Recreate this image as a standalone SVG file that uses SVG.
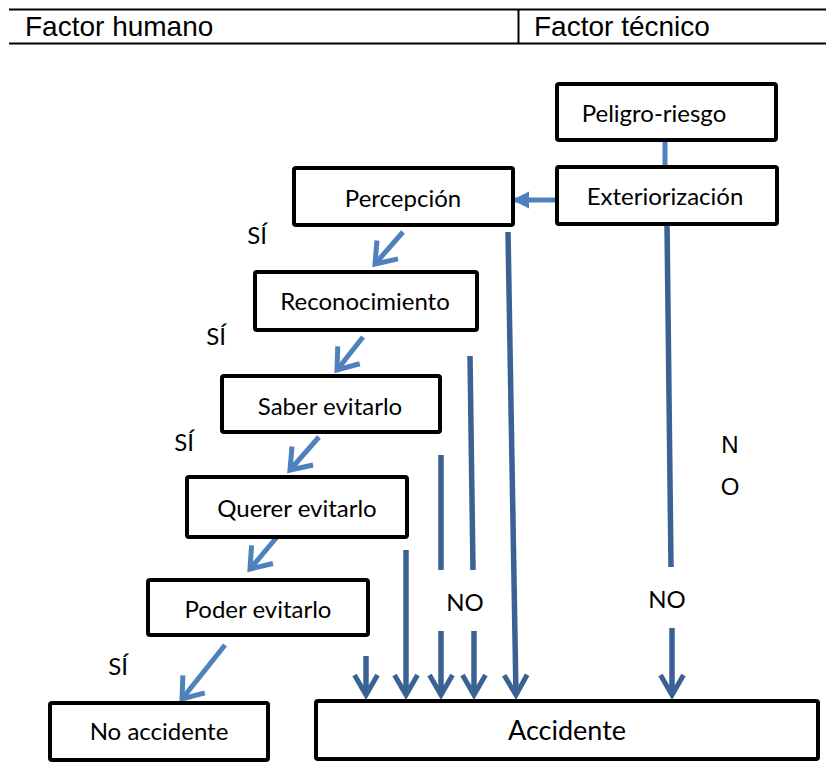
<svg xmlns="http://www.w3.org/2000/svg" width="826" height="762" viewBox="0 0 826 762">
  <style>
    .box { fill: #ffffff; stroke: #000000; stroke-width: 4; }
    .lbl { font-family: Lato, "Open Sans", sans-serif; font-size: 24px; fill: #000000; text-anchor: middle; }
    .hdr { font-family: "Liberation Sans", Arial, sans-serif; font-size: 28px; fill: #000000; }
    .rule { stroke: #000000; stroke-width: 2; }
    .light { stroke: #4F81BD; stroke-width: 5; fill: none; }
    .dark { stroke: #3A6295; stroke-width: 5.5; fill: none; }
  </style>
  <defs>
    <marker id="chevLight" markerUnits="userSpaceOnUse" markerWidth="40" markerHeight="40" viewBox="-30 -20 40 40" refX="0" refY="0" orient="auto">
      <path d="M -19 -14 L 0 0 L -19 14" fill="none" stroke="#4F81BD" stroke-width="5"/>
    </marker>
    <marker id="chevDark" markerUnits="userSpaceOnUse" markerWidth="40" markerHeight="40" viewBox="-30 -20 40 40" refX="0" refY="0" orient="auto">
      <path d="M -20 -11.5 L 0 0 L -20 11.5" fill="none" stroke="#3A6295" stroke-width="5"/>
    </marker>
    <marker id="triLight" markerUnits="userSpaceOnUse" markerWidth="30" markerHeight="30" viewBox="-20 -15 30 30" refX="0" refY="0" orient="auto">
      <path d="M -17 -8.5 L 0 0 L -17 8.5 Z" fill="#4F81BD"/>
    </marker>
  </defs>

  <!-- header table -->
  <g id="header">
    <line class="rule" x1="9" y1="9.5" x2="826" y2="9.5"/>
    <line class="rule" x1="9" y1="43.5" x2="826" y2="43.5"/>
    <line class="rule" x1="518.5" y1="9.5" x2="518.5" y2="43.5"/>
    <text class="hdr" x="25" y="36">Factor humano</text>
    <text class="hdr" x="534" y="36">Factor técnico</text>
  </g>

  <!-- connectors -->
  <g id="connectors">
    <line class="light" x1="665" y1="140" x2="665" y2="167"/>
    <line class="light" x1="557" y1="200" x2="512" y2="200" marker-end="url(#triLight)"/>

    <!-- SÍ branches -->
    <line class="light" x1="403" y1="232" x2="375" y2="264" marker-end="url(#chevLight)"/>
    <line class="light" x1="363" y1="337" x2="337" y2="370" marker-end="url(#chevLight)"/>
    <line class="light" x1="319" y1="437" x2="290" y2="470" marker-end="url(#chevLight)"/>
    <line class="light" x1="277" y1="537" x2="250" y2="569" marker-end="url(#chevLight)"/>
    <line class="light" x1="225" y1="645" x2="182" y2="699" marker-end="url(#chevLight)"/>

    <!-- NO branches into Accidente -->
    <line class="dark" x1="366" y1="656" x2="366" y2="695" marker-end="url(#chevDark)"/>
    <line class="dark" x1="406" y1="550" x2="406" y2="695" marker-end="url(#chevDark)"/>
    <line class="dark" x1="441" y1="455" x2="441" y2="570"/>
    <line class="dark" x1="441" y1="631" x2="441" y2="695" marker-end="url(#chevDark)"/>
    <line class="dark" x1="470" y1="356" x2="473" y2="570"/>
    <line class="dark" x1="474" y1="631" x2="474" y2="695" marker-end="url(#chevDark)"/>
    <line class="dark" x1="508" y1="232" x2="516" y2="695" marker-end="url(#chevDark)"/>
    <line class="dark" x1="667" y1="224" x2="671" y2="567"/>
    <line class="dark" x1="672" y1="628" x2="672" y2="695" marker-end="url(#chevDark)"/>
  </g>

  <!-- connector labels -->
  <g id="labels">
    <text class="lbl" x="257" y="244">SÍ</text>
    <text class="lbl" x="216" y="345">SÍ</text>
    <text class="lbl" x="184" y="451">SÍ</text>
    <text class="lbl" x="118" y="675">SÍ</text>
    <text class="lbl" x="465" y="611">NO</text>
    <text class="lbl" x="667" y="608">NO</text>
    <text class="hdr" x="730" y="453" text-anchor="middle" style="font-size:24px">N</text>
    <text class="hdr" x="730" y="495" text-anchor="middle" style="font-size:24px">O</text>
  </g>

  <g id="peligro">
    <rect class="box" x="557" y="84" width="219" height="56" rx="2"/>
    <text class="lbl" x="654" y="122">Peligro-riesgo</text>
  </g>
  <g id="exteriorizacion">
    <rect class="box" x="557" y="167" width="220" height="57" rx="2"/>
    <text class="lbl" x="665" y="205">Exteriorización</text>
  </g>
  <g id="percepcion">
    <rect class="box" x="294" y="168" width="219" height="57" rx="2"/>
    <text class="lbl" x="403" y="207">Percepción</text>
  </g>
  <g id="reconocimiento">
    <rect class="box" x="255" y="272" width="222" height="58" rx="2"/>
    <text class="lbl" x="365" y="310">Reconocimiento</text>
  </g>
  <g id="saber">
    <rect class="box" x="222" y="376" width="218" height="56" rx="2"/>
    <text class="lbl" x="330" y="415">Saber evitarlo</text>
  </g>
  <g id="querer">
    <rect class="box" x="187" y="477" width="220" height="60" rx="2"/>
    <text class="lbl" x="297" y="517">Querer evitarlo</text>
  </g>
  <g id="poder">
    <rect class="box" x="148" y="580" width="220" height="55" rx="2"/>
    <text class="lbl" x="258" y="618">Poder evitarlo</text>
  </g>
  <g id="no-accidente">
    <rect class="box" x="50" y="703" width="218" height="57" rx="2"/>
    <text class="lbl" x="159" y="740">No accidente</text>
  </g>
  <g id="accidente">
    <rect class="box" x="316" y="701" width="502" height="58" rx="2"/>
    <text class="lbl" x="567" y="740" style="font-size:27px">Accidente</text>
  </g>
</svg>
